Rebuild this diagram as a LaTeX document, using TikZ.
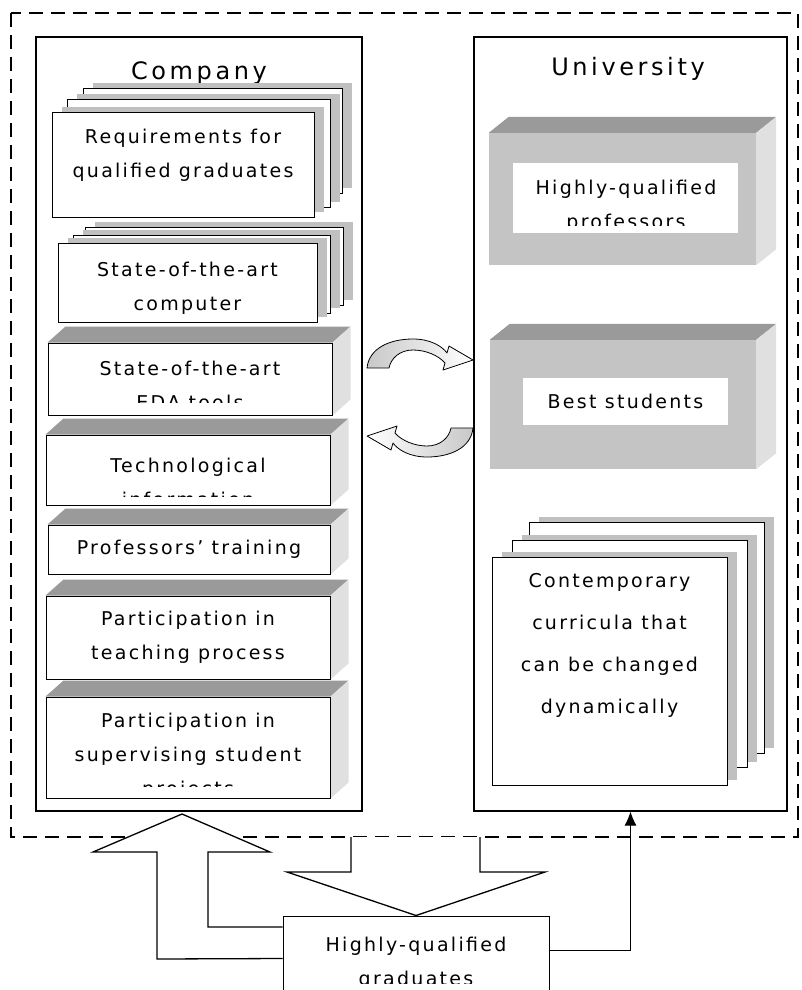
\documentclass[tikz,border=0pt]{standalone}
\usepackage{fontspec}
\usetikzlibrary{arrows.meta,shadows}
\newfontfamily\diagfont{DejaVu Sans}[LetterSpace=12]
\newfontfamily\diagheadfont{DejaVu Sans}[LetterSpace=15]
\newcommand\itemfont{\diagfont\fontsize{19}{34}\selectfont}
\definecolor{topgray}{HTML}{9A9A9A}
\definecolor{sidegray}{HTML}{E0E0E0}
\definecolor{frontgray}{HTML}{C4C4C4}
\definecolor{shadowgray}{HTML}{C0C0C0}
\definecolor{arrowgray}{HTML}{C8C8C8}
\pgfdeclarelayer{back}
\pgfsetlayers{back,main}
\tikzset{
    outline/.style={dash pattern=on 14pt off 8pt, line width=1.2pt},
    frame/.style={draw, line width=1.2pt, inner sep=0pt},
    headtext/.style={font=\diagheadfont\fontsize{24}{28}\selectfont, inner sep=0pt},
    itembox/.style={draw, fill=white, line width=1pt, inner sep=0pt, align=center, font=\itemfont},
    itemtext/.style={inner sep=0pt, align=center, font=\itemfont},
    page/.style={itembox, drop shadow={shadow xshift=10pt, shadow yshift=5pt, fill=shadowgray, opacity=1}},
    solidbox/.style={fill=frontgray, inner sep=0pt},
    panel/.style={fill=white, inner sep=0pt, align=center, font=\itemfont},
    blockarrow/.style={draw, fill=white, line width=1.3pt, line join=miter},
    linkarrow/.style={draw, line width=0.8pt, line join=round},
    thinarrow/.style={-{Latex[length=14pt, width=12pt]}, line width=1pt}
}

\begin{document}
\begin{tikzpicture}[x=1pt, y=-1pt]
        \clip (0,0) rectangle (801,990);

        \draw [outline] (11,13) rectangle (798,837);

        \node [frame, minimum width=326, minimum height=774] (company) at (199,424) {};
        \node [frame, minimum width=313, minimum height=774] (univ) at (630.5,424) {};
        \node [headtext, anchor=base] (companytitle) at (199,79) {Company};
        \node [headtext, anchor=base] (univtitle) at (628,75) {University};

        \node [page, minimum width=259, minimum height=105] (reqback) at (212.5,140.5) {};
        \node [page, minimum width=263, minimum height=108] (reqmid) at (198.5,153) {};
        \node [page, minimum width=262, minimum height=105] (req) at (183,164.5) {};
        \node [itemtext] (reqtext) at (183,155) {Requirements for\\qualified graduates};

        \node [page, minimum width=258, minimum height=78] (compback) at (214,266) {};
        \node [page, minimum width=257, minimum height=78] (compmid) at (201.5,274) {};
        \node [page, minimum width=259, minimum height=79] (comp) at (187.5,282.5) {};
        \node [itemtext] (comptext) at (187.5,288) {State-of-the-art\\computer};

        \node [itembox, minimum width=284, minimum height=72] (eda) at (190,379) {};
        \node [itembox, minimum width=284, minimum height=70] (tech) at (188,470) {};
        \node [itembox, minimum width=282, minimum height=49] (train) at (189,549.5) {Professors’ training};
        \node [itembox, minimum width=284, minimum height=83] (teach) at (188,637.5) {Participation in\\teaching process};
        \node [itembox, minimum width=284, minimum height=101] (superv) at (188,747.5) {};

        \begin{scope}
            \clip (48,343) rectangle (332,402);
            \node [itemtext] (edatext) at (190,385) {State-of-the-art\\EDA tools};
        \end{scope}
        \begin{scope}
            \clip (46,435) rectangle (330,496);
            \node [itemtext] (techtext) at (188,482) {Technological\\information};
        \end{scope}
        \begin{scope}
            \clip (46,697) rectangle (330,786);
            \node [itemtext] (supervtext) at (188,756) {Participation in\\supervising student\\projects};
        \end{scope}

        \node [solidbox, minimum width=267, minimum height=132] (prof) at (622.5,199) {};
        \node [panel, minimum width=225, minimum height=70] (profpanel) at (625.5,198) {};
        \begin{scope}
            \clip (513,163) rectangle (738,225);
            \node [itemtext] (proftext) at (626,206) {Highly-qualified\\professors};
        \end{scope}

        \node [solidbox, minimum width=266, minimum height=129] (best) at (623,404.5) {};
        \node [panel, minimum width=205, minimum height=47] (bestpanel) at (625.5,401.5) {Best students};

        \node [page, minimum width=235, minimum height=231] (currback) at (646.5,637.5) {};
        \node [page, minimum width=235, minimum height=227] (currmid) at (629.5,653.5) {};
        \node [page, minimum width=235, minimum height=228] (curr) at (609.5,671) {};
        \node [itemtext, font=\diagfont\fontsize{19}{42}\selectfont] (currtext) at (609.5,645) {Contemporary\\curricula that\\can be changed\\dynamically};

        \begin{pgfonlayer}{back}
            \foreach \n in {eda,tech,train,teach,superv}
            {
                \fill [topgray] (\n.north west) -- ++(18,-16) -- ([shift={(18,-16)}]\n.north east) -- (\n.north east) -- cycle;
                \fill [sidegray] (\n.north east) -- ++(18,-16) -- ([shift={(18,-16)}]\n.south east) -- (\n.south east) -- cycle;
            }
            \foreach \n in {prof,best}
            {
                \fill [topgray] (\n.north west) -- ++(20,-16) -- ([shift={(20,-16)}]\n.north east) -- (\n.north east) -- cycle;
                \fill [sidegray] (\n.north east) -- ++(20,-16) -- ([shift={(20,-16)}]\n.south east) -- (\n.south east) -- cycle;
            }
        \end{pgfonlayer}

        \foreach \r/\lc/\rc in {0/arrowgray/white, 180/white/arrowgray}
        {
            \begin{scope}[rotate around={\r:(420,398)}]
                \draw [linkarrow, left color=\lc, middle color=white, right color=\rc] (367,368) .. controls (369,348) and (390,339) .. (413,339) .. controls (430,339) and (442,346) .. (447,353) -- (449,346) -- (473,360) -- (443,370) -- (445,363) .. controls (438,355) and (425,350) .. (413,350) .. controls (400,350) and (391,358) .. (389,368) -- cycle;
            \end{scope}
        }

        \node [itembox, minimum width=266, minimum height=94] (grad) at (416,963) {};
        \begin{scope}
            \clip (283,916) rectangle (549,983);
            \node [itemtext] (gradtext) at (416,963) {Highly-qualified\\graduates};
        \end{scope}

        \draw [blockarrow] (grad.north west) ++(0,43) -- (157,959) -- (157,852) -- (93,852) -- (182,814) -- (270,852) -- (208,852) -- (208,927) -- (grad.north west |- 0,927);
        \draw [blockarrow] (351,837) -- (351,872) -- (287,872) -- (grad.north) -- (545,872) -- (480,872) -- (480,837);

        \draw [thinarrow] (grad.north east) ++(0,35) -| (univ.south);
\end{tikzpicture}
\end{document}
